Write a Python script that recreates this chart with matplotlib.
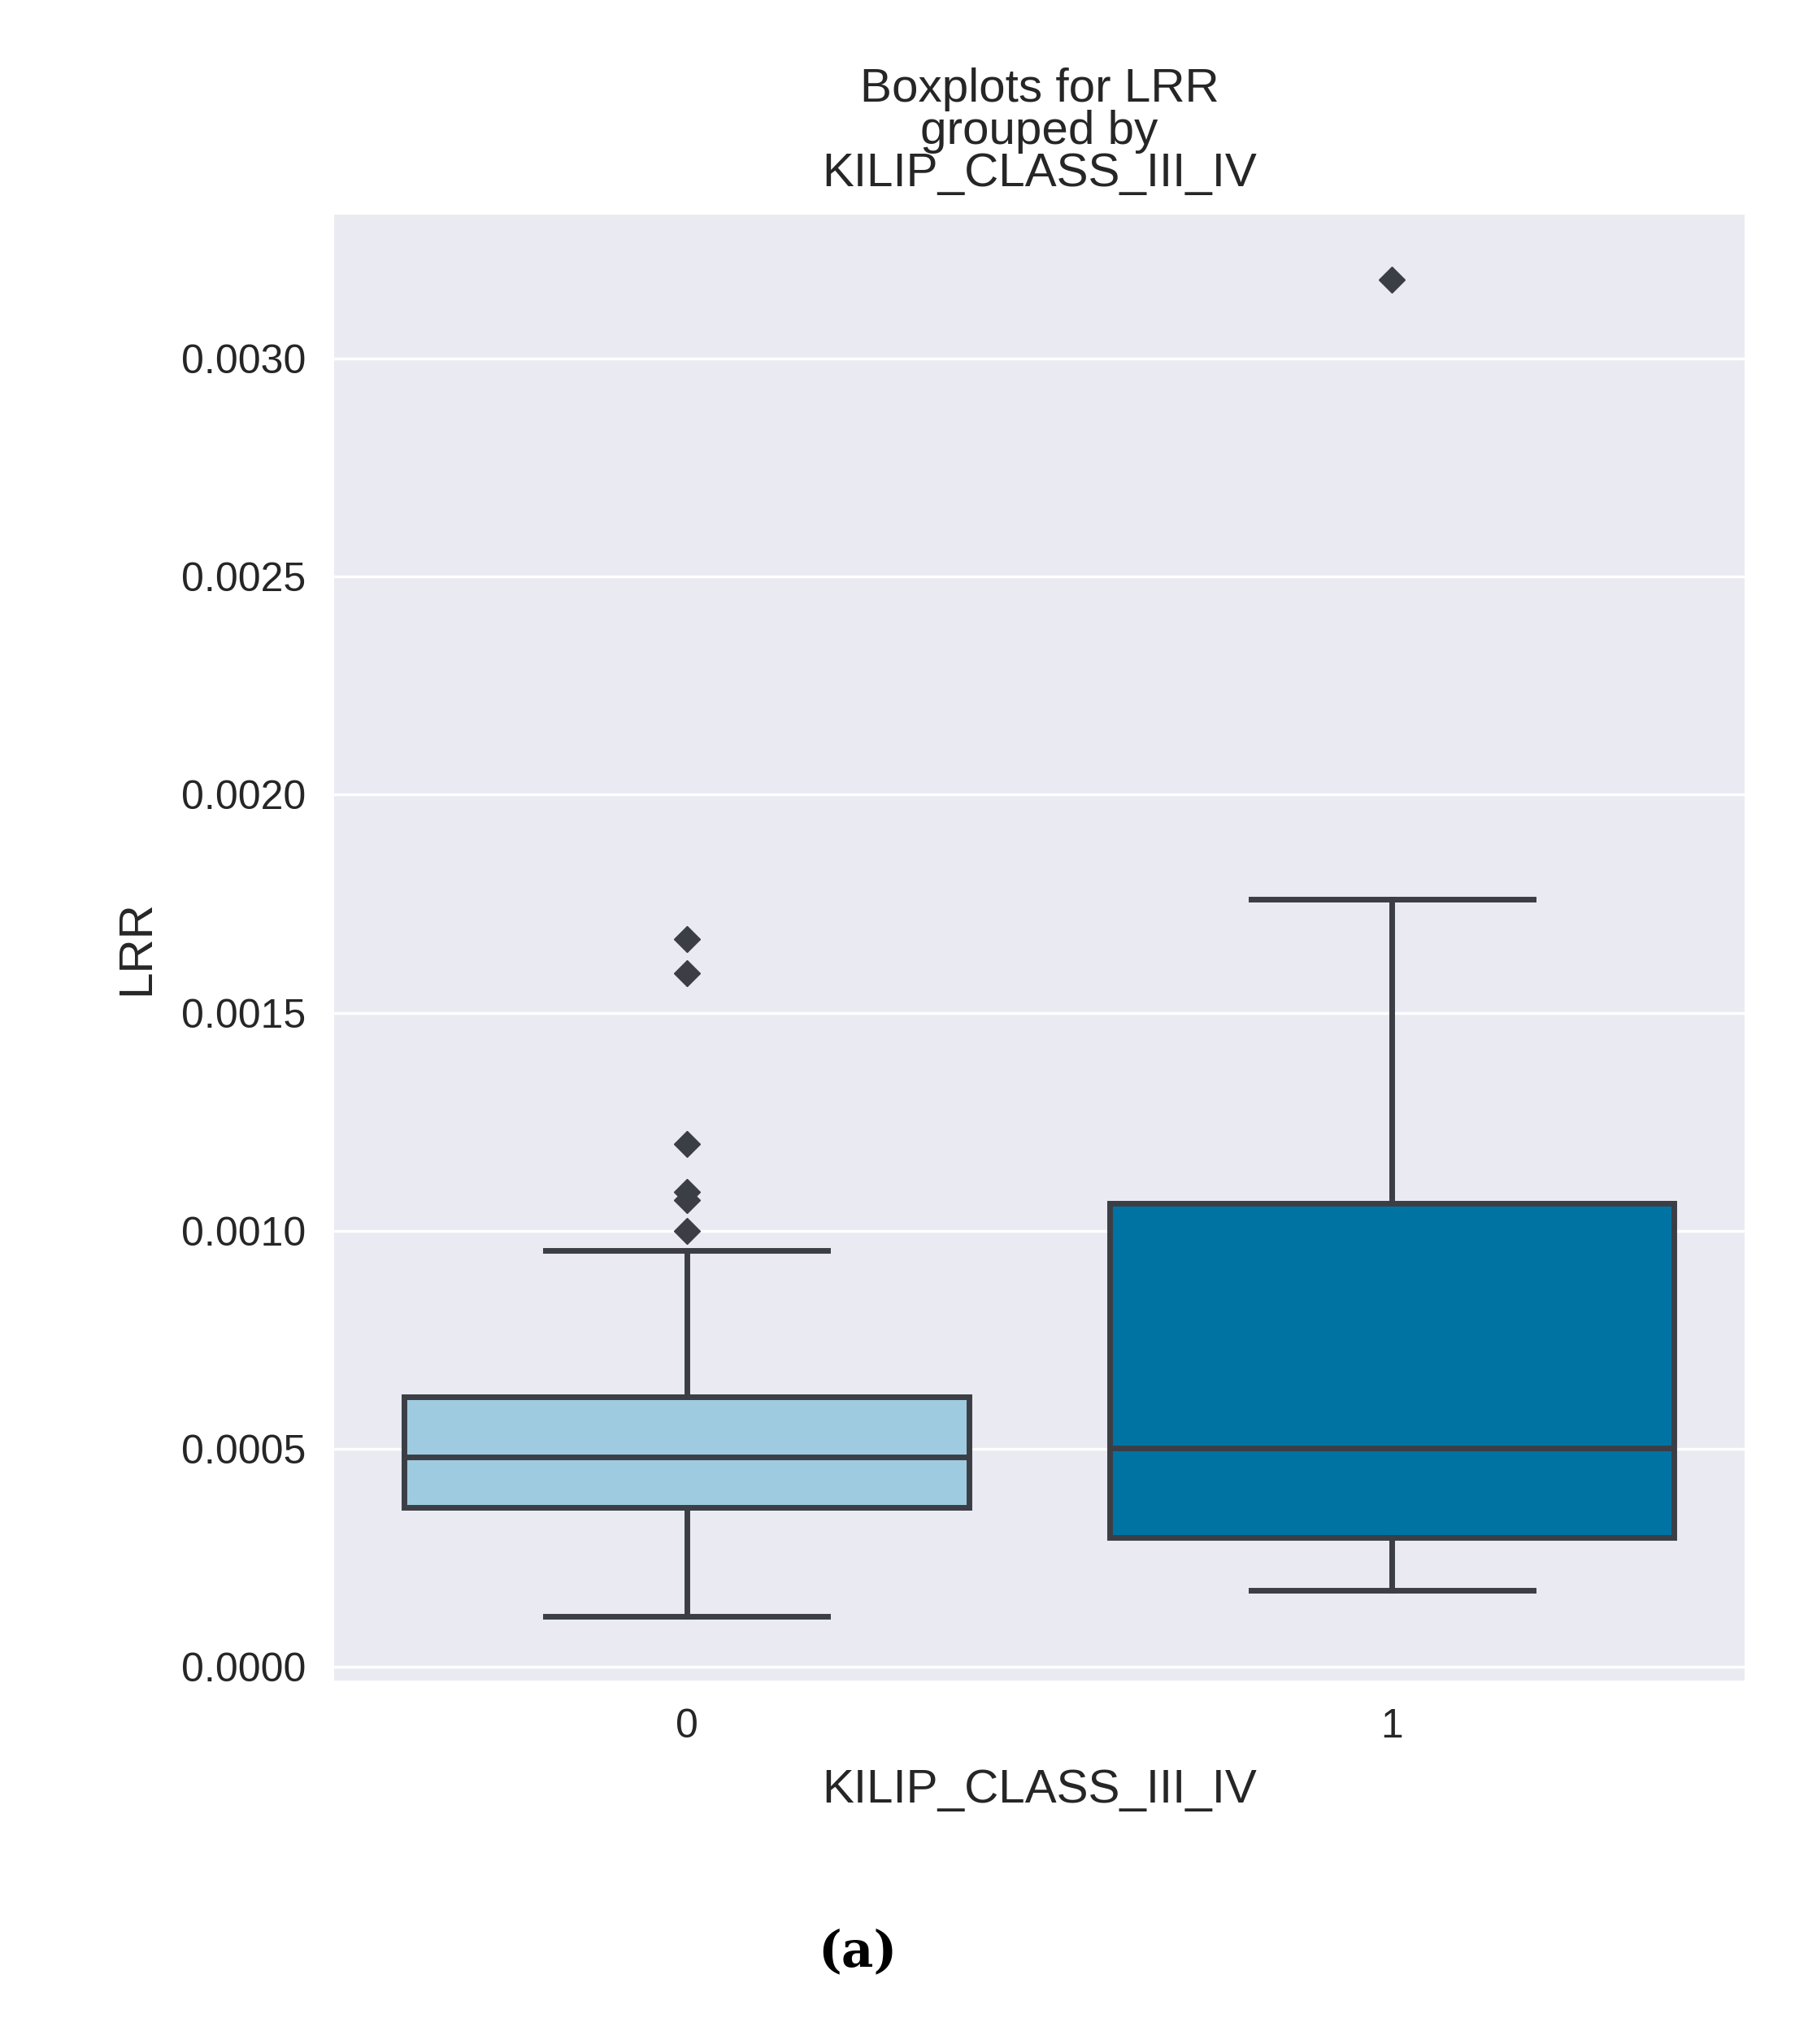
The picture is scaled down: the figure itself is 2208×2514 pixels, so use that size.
import matplotlib
matplotlib.use("Agg")
import matplotlib.pyplot as plt

categories = ["0", "1"]
q1 = [0.000366, 0.000298]
med = [0.000482, 0.000503]
q3 = [0.000619, 0.001063]
wlo = [0.000116, 0.000176]
whi = [0.000955, 0.00176]
fliers = [[0.00100, 0.00107, 0.00109, 0.00120, 0.00159, 0.00167], [0.00318]]
colors = ["#9fcbe0", "#0173a3"]

plt.rcParams['font.family'] = ['Liberation Sans', 'DejaVu Sans']
fig = plt.figure(figsize=(22.08, 25.14), dpi=100)
ax = fig.add_axes([0.186, 0.178, 0.786, 0.717])
ax.set_facecolor("#eaeaf2")
for s in ax.spines.values():
    s.set_visible(False)
ax.grid(axis='y', color='white', linewidth=2.5)
ax.set_axisbelow(True)

stats = [dict(q1=q1[i], med=med[i], q3=q3[i], whislo=wlo[i], whishi=whi[i],
              fliers=fliers[i], label=categories[i]) for i in range(2)]
lc = "#3b3f45"
bp = ax.bxp(stats, positions=[0, 1], widths=0.8, patch_artist=True,
            boxprops=dict(edgecolor=lc, linewidth=5),
            medianprops=dict(color=lc, linewidth=5),
            whiskerprops=dict(color=lc, linewidth=5),
            capprops=dict(color=lc, linewidth=5),
            flierprops=dict(marker='D', markerfacecolor=lc, markeredgecolor=lc, markersize=16))
for p, c in zip(bp['boxes'], colors):
    p.set_facecolor(c)
for cap in bp['caps']:
    x = cap.get_xdata()
    m = x.mean()
    cap.set_xdata([m - 0.2, m + 0.2])

ax.set_xlim(-0.5, 1.5)
ax.set_ylim(-0.00003, 0.00333)
ax.set_yticks([0, 0.0005, 0.001, 0.0015, 0.002, 0.0025, 0.003])
ax.set_yticklabels(["0.0000", "0.0005", "0.0010", "0.0015", "0.0020", "0.0025", "0.0030"])
ax.tick_params(axis='both', length=0, labelsize=36, colors="#262626", pad=25)
ax.set_xlabel("KILIP_CLASS_III_IV", fontsize=42, color="#262626", labelpad=20)
ax.set_ylabel("LRR", fontsize=42, color="#262626", labelpad=20)
ax.set_title("Boxplots for LRR\ngrouped by\nKILIP_CLASS_III_IV", fontsize=42, color="#262626",
             linespacing=0.95, pad=25)
fig.text(0.478, 0.038, "(a)", fontsize=44, fontweight='bold', family='DejaVu Serif', ha='center')
fig.savefig("out.png", dpi=100, facecolor="white")
